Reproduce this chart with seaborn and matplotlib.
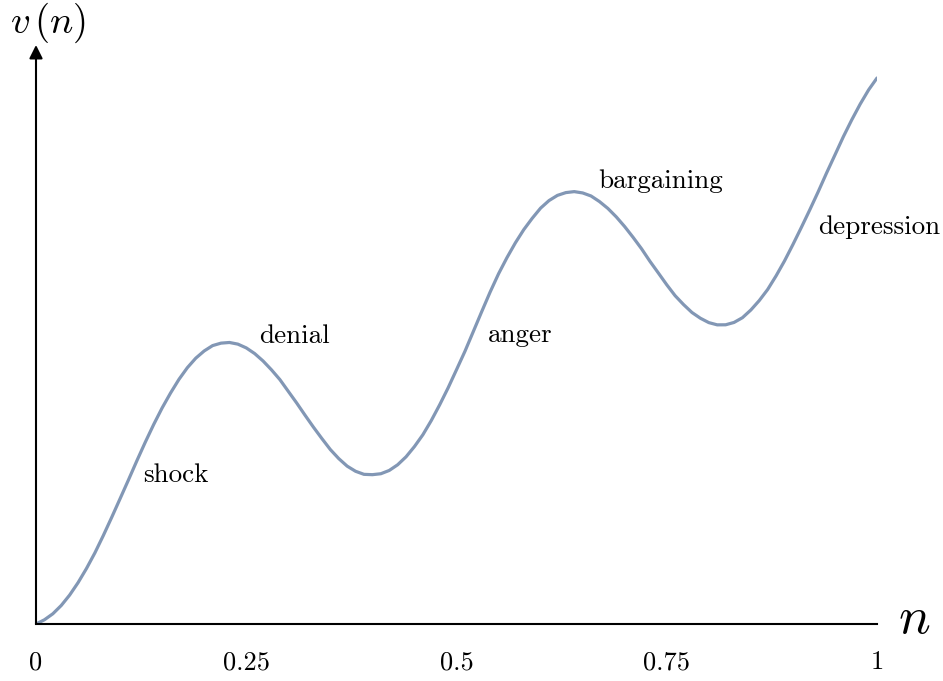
import numpy as np
import seaborn as sns
import matplotlib.pyplot as plt

# curve, every 0.01 along n
n_vals = [round(0.01 * k, 2) for k in range(101)]
v_vals = [0.0000, 0.0077, 0.0187, 0.0339, 0.0530, 0.0757, 0.1016, 0.1302, 0.1619, 0.1953,
          0.2296, 0.2641, 0.2992, 0.3332, 0.3656, 0.3958, 0.4231, 0.4481, 0.4695, 0.4869,
          0.5001, 0.5099, 0.5144, 0.5156, 0.5126, 0.5057, 0.4953, 0.4817, 0.4655, 0.4476,
          0.4261, 0.4047, 0.3822, 0.3603, 0.3395, 0.3195, 0.3029, 0.2891, 0.2797, 0.2741,
          0.2735, 0.2752, 0.2812, 0.2916, 0.3062, 0.3250, 0.3466, 0.3726, 0.4015, 0.4324,
          0.4657, 0.4993, 0.5357, 0.5722, 0.6080, 0.6414, 0.6710, 0.6981, 0.7223, 0.7430,
          0.7617, 0.7755, 0.7850, 0.7901, 0.7919, 0.7895, 0.7839, 0.7737, 0.7611, 0.7456,
          0.7278, 0.7081, 0.6873, 0.6643, 0.6429, 0.6213, 0.6012, 0.5850, 0.5705, 0.5600,
          0.5520, 0.5479, 0.5480, 0.5523, 0.5610, 0.5751, 0.5924, 0.6127, 0.6376, 0.6649,
          0.6949, 0.7262, 0.7583, 0.7914, 0.8259, 0.8591, 0.8925, 0.9234, 0.9522, 0.9782,
          1.0000]

stage_labels = ["shock", "denial", "anger", "bargaining", "depression"]
stage_n = [0.127, 0.265, 0.537, 0.668, 0.930]
stage_v = [0.260, 0.515, 0.516, 0.799, 0.714]

tick_pos = [0, 0.25, 0.5, 0.75, 1]
tick_lbl = ["0", "0.25", "0.5", "0.75", "1"]

sns.set_style("white")
plt.rcParams["mathtext.fontset"] = "cm"
plt.rcParams["text.color"] = "black"
plt.rcParams["xtick.color"] = "black"
serif = ["cmr10", "DejaVu Serif"]

fig = plt.figure(figsize=(9.43, 6.81), dpi=100)
ax = fig.add_axes([36 / 943, 57 / 681, 841 / 943, 579 / 681])

sns.lineplot(x=n_vals, y=v_vals, ax=ax, color="#8297b5", linewidth=2.3)

ax.set_xlim(0, 1)
ax.set_ylim(0, 579 / 546)

for s in ["top", "right", "left"]:
    ax.spines[s].set_visible(False)
ax.spines["bottom"].set_linewidth(1.5)
ax.spines["bottom"].set_color("black")

# y axis with arrow
ax.annotate("", xy=(0, 1), xytext=(0, 0), xycoords="axes fraction",
            arrowprops=dict(arrowstyle="-|>", lw=1.5, color="black",
                            mutation_scale=20, shrinkA=0, shrinkB=0))

ax.set_xticks(tick_pos)
ax.set_xticklabels(tick_lbl, fontfamily=serif, fontsize=19, color="black")
ax.tick_params(axis="x", direction="in", length=8, width=1.3, color="black", pad=19)
ax.set_yticks([])

for lab, x, y in zip(stage_labels, stage_n, stage_v):
    ax.text(x, y, lab, fontfamily=serif, fontsize=19.5, color="black",
            ha="left", va="baseline")

ax.text(1.025, -0.016, r"$n$", fontsize=38, color="black",
        ha="left", va="baseline", clip_on=False)
ax.text(-0.031, 1.082, r"$v\,(n)$", fontsize=28, color="black",
        ha="left", va="baseline", clip_on=False)

fig.savefig("out.png", dpi=100)
